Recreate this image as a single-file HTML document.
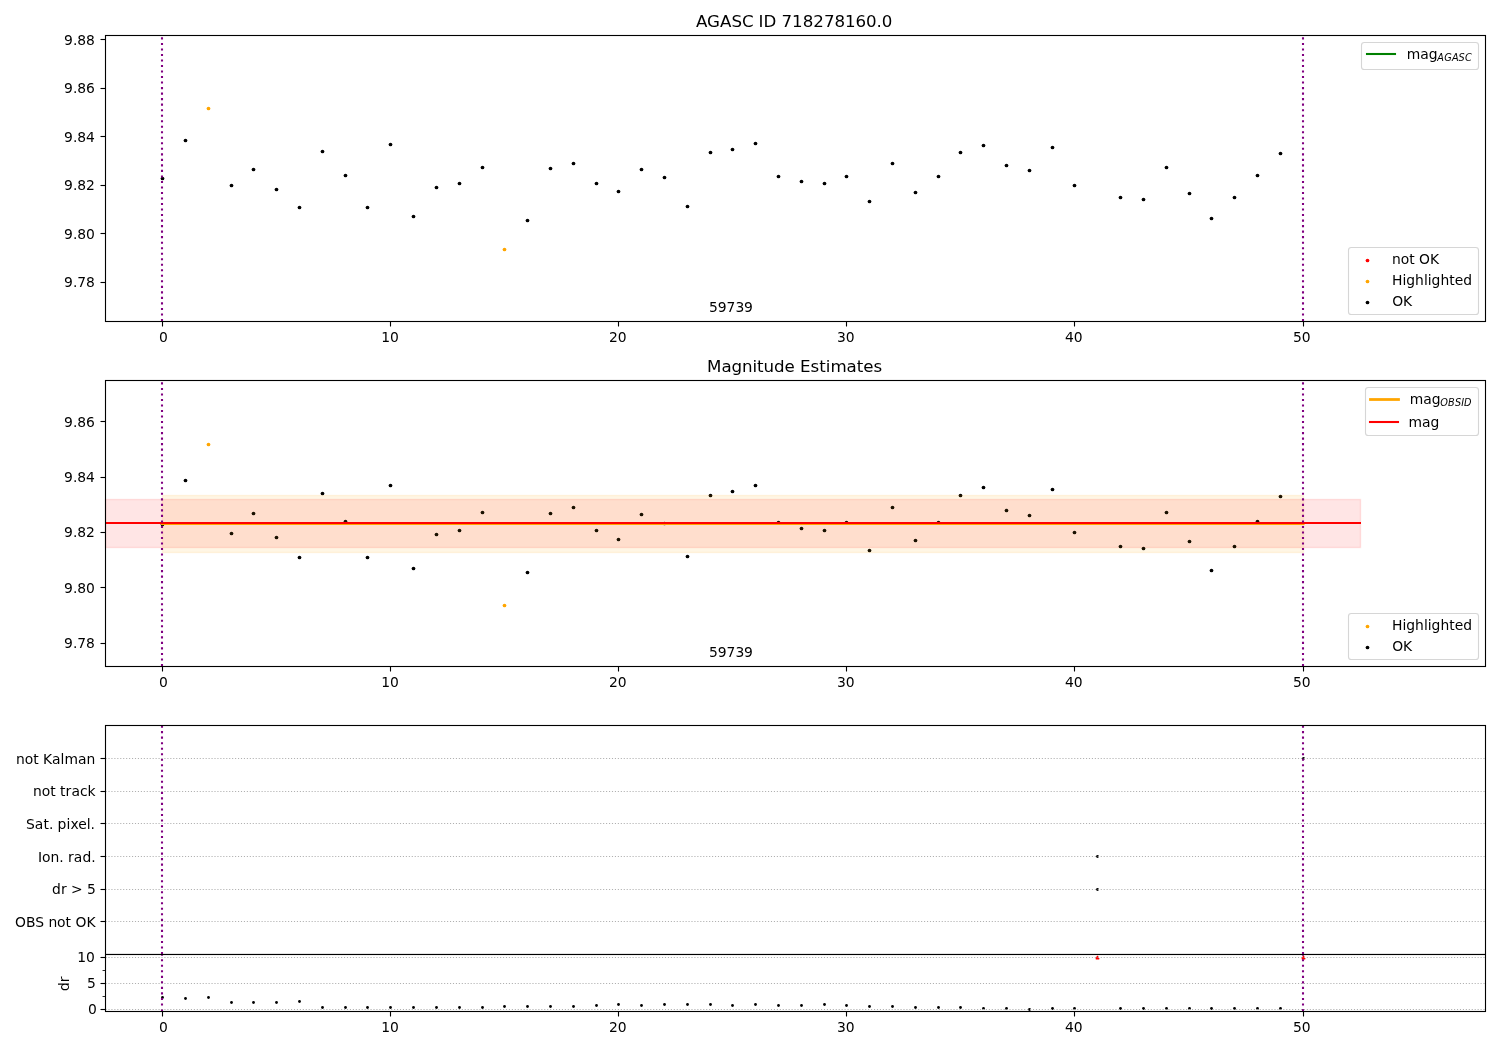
<!DOCTYPE html>
<html lang="en"><head><meta charset="utf-8"><title>AGASC ID 718278160.0</title>
<style>html,body{margin:0;padding:0;background:#fff;}svg{display:block;will-change:transform;}</style></head>
<body>
<svg width="1500" height="1050" viewBox="0 0 1500 1050" font-family="'DejaVu Sans', 'Liberation Sans', sans-serif" font-size="13.889" fill="#000">
<rect width="1500" height="1050" fill="#fff"/>
<circle cx="162.5" cy="178.5" r="1.85" fill="#000"/>
<circle cx="185.5" cy="140.5" r="1.85" fill="#000"/>
<circle cx="208.5" cy="108.5" r="1.85" fill="orange"/>
<circle cx="231.5" cy="185.5" r="1.85" fill="#000"/>
<circle cx="253.5" cy="169.5" r="1.85" fill="#000"/>
<circle cx="276.5" cy="189.5" r="1.85" fill="#000"/>
<circle cx="299.5" cy="207.5" r="1.85" fill="#000"/>
<circle cx="322.5" cy="151.5" r="1.85" fill="#000"/>
<circle cx="345.5" cy="175.5" r="1.85" fill="#000"/>
<circle cx="367.5" cy="207.5" r="1.85" fill="#000"/>
<circle cx="390.5" cy="144.5" r="1.85" fill="#000"/>
<circle cx="413.5" cy="216.5" r="1.85" fill="#000"/>
<circle cx="436.5" cy="187.5" r="1.85" fill="#000"/>
<circle cx="459.5" cy="183.5" r="1.85" fill="#000"/>
<circle cx="482.5" cy="167.5" r="1.85" fill="#000"/>
<circle cx="504.5" cy="249.5" r="1.85" fill="orange"/>
<circle cx="527.5" cy="220.5" r="1.85" fill="#000"/>
<circle cx="550.5" cy="168.5" r="1.85" fill="#000"/>
<circle cx="573.5" cy="163.5" r="1.85" fill="#000"/>
<circle cx="596.5" cy="183.5" r="1.85" fill="#000"/>
<circle cx="618.5" cy="191.5" r="1.85" fill="#000"/>
<circle cx="641.5" cy="169.5" r="1.85" fill="#000"/>
<circle cx="664.5" cy="177.5" r="1.85" fill="#000"/>
<circle cx="687.5" cy="206.5" r="1.85" fill="#000"/>
<circle cx="710.5" cy="152.5" r="1.85" fill="#000"/>
<circle cx="732.5" cy="149.5" r="1.85" fill="#000"/>
<circle cx="755.5" cy="143.5" r="1.85" fill="#000"/>
<circle cx="778.5" cy="176.5" r="1.85" fill="#000"/>
<circle cx="801.5" cy="181.5" r="1.85" fill="#000"/>
<circle cx="824.5" cy="183.5" r="1.85" fill="#000"/>
<circle cx="846.5" cy="176.5" r="1.85" fill="#000"/>
<circle cx="869.5" cy="201.5" r="1.85" fill="#000"/>
<circle cx="892.5" cy="163.5" r="1.85" fill="#000"/>
<circle cx="915.5" cy="192.5" r="1.85" fill="#000"/>
<circle cx="938.5" cy="176.5" r="1.85" fill="#000"/>
<circle cx="960.5" cy="152.5" r="1.85" fill="#000"/>
<circle cx="983.5" cy="145.5" r="1.85" fill="#000"/>
<circle cx="1006.5" cy="165.5" r="1.85" fill="#000"/>
<circle cx="1029.5" cy="170.5" r="1.85" fill="#000"/>
<circle cx="1052.5" cy="147.5" r="1.85" fill="#000"/>
<circle cx="1074.5" cy="185.5" r="1.85" fill="#000"/>
<circle cx="1120.5" cy="197.5" r="1.85" fill="#000"/>
<circle cx="1143.5" cy="199.5" r="1.85" fill="#000"/>
<circle cx="1166.5" cy="167.5" r="1.85" fill="#000"/>
<circle cx="1189.5" cy="193.5" r="1.85" fill="#000"/>
<circle cx="1211.5" cy="218.5" r="1.85" fill="#000"/>
<circle cx="1234.5" cy="197.5" r="1.85" fill="#000"/>
<circle cx="1257.5" cy="175.5" r="1.85" fill="#000"/>
<circle cx="1280.5" cy="153.5" r="1.85" fill="#000"/>
<line x1="162.0" y1="321.00" x2="162.0" y2="35.30" stroke="#800080" stroke-width="2.083" stroke-dasharray="2.083 3.4375"/>
<line x1="1303.0" y1="321.00" x2="1303.0" y2="35.30" stroke="#800080" stroke-width="2.083" stroke-dasharray="2.083 3.4375"/>
<rect x="105.5" y="35.5" width="1380.0" height="286.0" fill="none" stroke="#000" stroke-width="1.11"/>
<line x1="162.5" y1="321.5" x2="162.5" y2="326.50" stroke="#000" stroke-width="1.11"/>
<line x1="390.5" y1="321.5" x2="390.5" y2="326.50" stroke="#000" stroke-width="1.11"/>
<line x1="618.5" y1="321.5" x2="618.5" y2="326.50" stroke="#000" stroke-width="1.11"/>
<line x1="846.5" y1="321.5" x2="846.5" y2="326.50" stroke="#000" stroke-width="1.11"/>
<line x1="1074.5" y1="321.5" x2="1074.5" y2="326.50" stroke="#000" stroke-width="1.11"/>
<line x1="1303.5" y1="321.5" x2="1303.5" y2="326.50" stroke="#000" stroke-width="1.11"/>
<line x1="100.50" y1="39.5" x2="105.5" y2="39.5" stroke="#000" stroke-width="1.11"/>
<line x1="100.50" y1="88.5" x2="105.5" y2="88.5" stroke="#000" stroke-width="1.11"/>
<line x1="100.50" y1="136.5" x2="105.5" y2="136.5" stroke="#000" stroke-width="1.11"/>
<line x1="100.50" y1="185.5" x2="105.5" y2="185.5" stroke="#000" stroke-width="1.11"/>
<line x1="100.50" y1="233.5" x2="105.5" y2="233.5" stroke="#000" stroke-width="1.11"/>
<line x1="100.50" y1="282.5" x2="105.5" y2="282.5" stroke="#000" stroke-width="1.11"/>
<rect x="1361.5" y="42.5" width="117.0" height="27.0" rx="2.8" ry="2.8" fill="#fff" fill-opacity="0.8" stroke="#ccc" stroke-opacity="0.8" stroke-width="1.11"/>
<line x1="1365.96" y1="54.0" x2="1396.04" y2="54.0" stroke="#008000" stroke-width="2.083"/>
<rect x="1348.5" y="247.5" width="130.0" height="67.0" rx="2.8" ry="2.8" fill="#fff" fill-opacity="0.8" stroke="#ccc" stroke-opacity="0.8" stroke-width="1.11"/>
<circle cx="1367.5" cy="260.5" r="1.85" fill="#f00"/>
<circle cx="1367.5" cy="281.5" r="1.85" fill="orange"/>
<circle cx="1367.5" cy="302.5" r="1.85" fill="#000"/>
<rect x="105.5" y="499.5" width="1255.0" height="48.0" fill="#f00" fill-opacity="0.1" stroke="#f00" stroke-opacity="0.1" stroke-width="1.39"/>
<circle cx="162.5" cy="524.5" r="1.85" fill="#000"/>
<circle cx="185.5" cy="480.5" r="1.85" fill="#000"/>
<circle cx="208.5" cy="444.5" r="1.85" fill="orange"/>
<circle cx="231.5" cy="533.5" r="1.85" fill="#000"/>
<circle cx="253.5" cy="513.5" r="1.85" fill="#000"/>
<circle cx="276.5" cy="537.5" r="1.85" fill="#000"/>
<circle cx="299.5" cy="557.5" r="1.85" fill="#000"/>
<circle cx="322.5" cy="493.5" r="1.85" fill="#000"/>
<circle cx="345.5" cy="521.5" r="1.85" fill="#000"/>
<circle cx="367.5" cy="557.5" r="1.85" fill="#000"/>
<circle cx="390.5" cy="485.5" r="1.85" fill="#000"/>
<circle cx="413.5" cy="568.5" r="1.85" fill="#000"/>
<circle cx="436.5" cy="534.5" r="1.85" fill="#000"/>
<circle cx="459.5" cy="530.5" r="1.85" fill="#000"/>
<circle cx="482.5" cy="512.5" r="1.85" fill="#000"/>
<circle cx="504.5" cy="605.5" r="1.85" fill="orange"/>
<circle cx="527.5" cy="572.5" r="1.85" fill="#000"/>
<circle cx="550.5" cy="513.5" r="1.85" fill="#000"/>
<circle cx="573.5" cy="507.5" r="1.85" fill="#000"/>
<circle cx="596.5" cy="530.5" r="1.85" fill="#000"/>
<circle cx="618.5" cy="539.5" r="1.85" fill="#000"/>
<circle cx="641.5" cy="514.5" r="1.85" fill="#000"/>
<circle cx="664.5" cy="523.5" r="1.85" fill="#000"/>
<circle cx="687.5" cy="556.5" r="1.85" fill="#000"/>
<circle cx="710.5" cy="495.5" r="1.85" fill="#000"/>
<circle cx="732.5" cy="491.5" r="1.85" fill="#000"/>
<circle cx="755.5" cy="485.5" r="1.85" fill="#000"/>
<circle cx="778.5" cy="522.5" r="1.85" fill="#000"/>
<circle cx="801.5" cy="528.5" r="1.85" fill="#000"/>
<circle cx="824.5" cy="530.5" r="1.85" fill="#000"/>
<circle cx="846.5" cy="522.5" r="1.85" fill="#000"/>
<circle cx="869.5" cy="550.5" r="1.85" fill="#000"/>
<circle cx="892.5" cy="507.5" r="1.85" fill="#000"/>
<circle cx="915.5" cy="540.5" r="1.85" fill="#000"/>
<circle cx="938.5" cy="522.5" r="1.85" fill="#000"/>
<circle cx="960.5" cy="495.5" r="1.85" fill="#000"/>
<circle cx="983.5" cy="487.5" r="1.85" fill="#000"/>
<circle cx="1006.5" cy="510.5" r="1.85" fill="#000"/>
<circle cx="1029.5" cy="515.5" r="1.85" fill="#000"/>
<circle cx="1052.5" cy="489.5" r="1.85" fill="#000"/>
<circle cx="1074.5" cy="532.5" r="1.85" fill="#000"/>
<circle cx="1120.5" cy="546.5" r="1.85" fill="#000"/>
<circle cx="1143.5" cy="548.5" r="1.85" fill="#000"/>
<circle cx="1166.5" cy="512.5" r="1.85" fill="#000"/>
<circle cx="1189.5" cy="541.5" r="1.85" fill="#000"/>
<circle cx="1211.5" cy="570.5" r="1.85" fill="#000"/>
<circle cx="1234.5" cy="546.5" r="1.85" fill="#000"/>
<circle cx="1257.5" cy="521.5" r="1.85" fill="#000"/>
<circle cx="1280.5" cy="496.5" r="1.85" fill="#000"/>
<rect x="162.5" y="495.5" width="1141.0" height="57.0" fill="orange" fill-opacity="0.1" stroke="orange" stroke-opacity="0.1" stroke-width="1.39"/>
<line x1="160.9" y1="523.5" x2="1304.55" y2="523.5" stroke="orange" stroke-width="2.78"/>
<line x1="105.5" y1="523.0" x2="1361.0" y2="523.0" stroke="#f00" stroke-width="2.083"/>
<line x1="162.0" y1="666.00" x2="162.0" y2="380.30" stroke="#800080" stroke-width="2.083" stroke-dasharray="2.083 3.4375"/>
<line x1="1303.0" y1="666.00" x2="1303.0" y2="380.30" stroke="#800080" stroke-width="2.083" stroke-dasharray="2.083 3.4375"/>
<rect x="105.5" y="380.5" width="1380.0" height="286.0" fill="none" stroke="#000" stroke-width="1.11"/>
<line x1="162.5" y1="666.5" x2="162.5" y2="671.50" stroke="#000" stroke-width="1.11"/>
<line x1="390.5" y1="666.5" x2="390.5" y2="671.50" stroke="#000" stroke-width="1.11"/>
<line x1="618.5" y1="666.5" x2="618.5" y2="671.50" stroke="#000" stroke-width="1.11"/>
<line x1="846.5" y1="666.5" x2="846.5" y2="671.50" stroke="#000" stroke-width="1.11"/>
<line x1="1074.5" y1="666.5" x2="1074.5" y2="671.50" stroke="#000" stroke-width="1.11"/>
<line x1="1303.5" y1="666.5" x2="1303.5" y2="671.50" stroke="#000" stroke-width="1.11"/>
<line x1="100.50" y1="421.5" x2="105.5" y2="421.5" stroke="#000" stroke-width="1.11"/>
<line x1="100.50" y1="477.5" x2="105.5" y2="477.5" stroke="#000" stroke-width="1.11"/>
<line x1="100.50" y1="532.5" x2="105.5" y2="532.5" stroke="#000" stroke-width="1.11"/>
<line x1="100.50" y1="587.5" x2="105.5" y2="587.5" stroke="#000" stroke-width="1.11"/>
<line x1="100.50" y1="643.5" x2="105.5" y2="643.5" stroke="#000" stroke-width="1.11"/>
<rect x="1365.5" y="387.5" width="113.0" height="48.0" rx="2.8" ry="2.8" fill="#fff" fill-opacity="0.8" stroke="#ccc" stroke-opacity="0.8" stroke-width="1.11"/>
<line x1="1369.11" y1="399.5" x2="1399.89" y2="399.5" stroke="orange" stroke-width="2.78"/>
<line x1="1368.96" y1="422.0" x2="1399.04" y2="422.0" stroke="#f00" stroke-width="2.083"/>
<rect x="1348.5" y="613.5" width="130.0" height="46.0" rx="2.8" ry="2.8" fill="#fff" fill-opacity="0.8" stroke="#ccc" stroke-opacity="0.8" stroke-width="1.11"/>
<circle cx="1367.5" cy="626.5" r="1.85" fill="orange"/>
<circle cx="1367.5" cy="647.5" r="1.85" fill="#000"/>
<circle cx="162.5" cy="997.5" r="1.40" fill="#000"/>
<circle cx="185.5" cy="998.5" r="1.40" fill="#000"/>
<circle cx="208.5" cy="997.5" r="1.40" fill="#000"/>
<circle cx="231.5" cy="1002.5" r="1.40" fill="#000"/>
<circle cx="253.5" cy="1002.5" r="1.40" fill="#000"/>
<circle cx="276.5" cy="1002.5" r="1.40" fill="#000"/>
<circle cx="299.5" cy="1001.5" r="1.40" fill="#000"/>
<circle cx="322.5" cy="1007.5" r="1.40" fill="#000"/>
<circle cx="345.5" cy="1007.5" r="1.40" fill="#000"/>
<circle cx="367.5" cy="1007.5" r="1.40" fill="#000"/>
<circle cx="390.5" cy="1007.5" r="1.40" fill="#000"/>
<circle cx="413.5" cy="1007.5" r="1.40" fill="#000"/>
<circle cx="436.5" cy="1007.5" r="1.40" fill="#000"/>
<circle cx="459.5" cy="1007.5" r="1.40" fill="#000"/>
<circle cx="482.5" cy="1007.5" r="1.40" fill="#000"/>
<circle cx="504.5" cy="1006.5" r="1.40" fill="#000"/>
<circle cx="527.5" cy="1006.5" r="1.40" fill="#000"/>
<circle cx="550.5" cy="1006.5" r="1.40" fill="#000"/>
<circle cx="573.5" cy="1006.5" r="1.40" fill="#000"/>
<circle cx="596.5" cy="1005.5" r="1.40" fill="#000"/>
<circle cx="618.5" cy="1004.5" r="1.40" fill="#000"/>
<circle cx="641.5" cy="1005.5" r="1.40" fill="#000"/>
<circle cx="664.5" cy="1004.5" r="1.40" fill="#000"/>
<circle cx="687.5" cy="1004.5" r="1.40" fill="#000"/>
<circle cx="710.5" cy="1004.5" r="1.40" fill="#000"/>
<circle cx="732.5" cy="1005.5" r="1.40" fill="#000"/>
<circle cx="755.5" cy="1004.5" r="1.40" fill="#000"/>
<circle cx="778.5" cy="1005.5" r="1.40" fill="#000"/>
<circle cx="801.5" cy="1005.5" r="1.40" fill="#000"/>
<circle cx="824.5" cy="1004.5" r="1.40" fill="#000"/>
<circle cx="846.5" cy="1005.5" r="1.40" fill="#000"/>
<circle cx="869.5" cy="1006.5" r="1.40" fill="#000"/>
<circle cx="892.5" cy="1006.5" r="1.40" fill="#000"/>
<circle cx="915.5" cy="1007.5" r="1.40" fill="#000"/>
<circle cx="938.5" cy="1007.5" r="1.40" fill="#000"/>
<circle cx="960.5" cy="1007.5" r="1.40" fill="#000"/>
<circle cx="983.5" cy="1008.5" r="1.40" fill="#000"/>
<circle cx="1006.5" cy="1008.5" r="1.40" fill="#000"/>
<circle cx="1029.5" cy="1009.5" r="1.40" fill="#000"/>
<circle cx="1052.5" cy="1008.5" r="1.40" fill="#000"/>
<circle cx="1074.5" cy="1008.5" r="1.40" fill="#000"/>
<circle cx="1120.5" cy="1008.5" r="1.40" fill="#000"/>
<circle cx="1143.5" cy="1008.5" r="1.40" fill="#000"/>
<circle cx="1166.5" cy="1008.5" r="1.40" fill="#000"/>
<circle cx="1189.5" cy="1008.5" r="1.40" fill="#000"/>
<circle cx="1211.5" cy="1008.5" r="1.40" fill="#000"/>
<circle cx="1234.5" cy="1008.5" r="1.40" fill="#000"/>
<circle cx="1257.5" cy="1008.5" r="1.40" fill="#000"/>
<circle cx="1280.5" cy="1008.5" r="1.40" fill="#000"/>
<circle cx="1097.5" cy="856.5" r="1.40" fill="#000"/>
<circle cx="1097.5" cy="889.5" r="1.40" fill="#000"/>
<circle cx="1303.5" cy="758.5" r="1.40" fill="#000"/>
<path d="M1096.97 955.75 L1098.03 955.75 L1099.50 958.70 L1099.50 958.95 L1098.95 959.62 L1096.05 959.62 L1095.50 958.95 L1095.50 958.70 Z" fill="#f00"/>
<path d="M1302.97 955.75 L1304.03 955.75 L1305.50 958.70 L1305.50 958.95 L1304.95 959.62 L1302.05 959.62 L1301.50 958.95 L1301.50 958.70 Z" fill="#f00"/>
<line x1="162.0" y1="954.00" x2="162.0" y2="725.30" stroke="#800080" stroke-width="2.083" stroke-dasharray="2.083 3.4375"/>
<line x1="1303.0" y1="954.00" x2="1303.0" y2="725.30" stroke="#800080" stroke-width="2.083" stroke-dasharray="2.083 3.4375"/>
<line x1="162.0" y1="1011.00" x2="162.0" y2="954.00" stroke="#800080" stroke-width="2.083" stroke-dasharray="2.083 3.4375"/>
<line x1="1303.0" y1="1011.00" x2="1303.0" y2="954.00" stroke="#800080" stroke-width="2.083" stroke-dasharray="2.083 3.4375"/>
<line x1="105.5" y1="758.5" x2="1485.5" y2="758.5" stroke="#b0b0b0" stroke-width="1.11" stroke-dasharray="1.1111 1.8333"/>
<line x1="105.5" y1="791.5" x2="1485.5" y2="791.5" stroke="#b0b0b0" stroke-width="1.11" stroke-dasharray="1.1111 1.8333"/>
<line x1="105.5" y1="823.5" x2="1485.5" y2="823.5" stroke="#b0b0b0" stroke-width="1.11" stroke-dasharray="1.1111 1.8333"/>
<line x1="105.5" y1="856.5" x2="1485.5" y2="856.5" stroke="#b0b0b0" stroke-width="1.11" stroke-dasharray="1.1111 1.8333"/>
<line x1="105.5" y1="889.5" x2="1485.5" y2="889.5" stroke="#b0b0b0" stroke-width="1.11" stroke-dasharray="1.1111 1.8333"/>
<line x1="105.5" y1="921.5" x2="1485.5" y2="921.5" stroke="#b0b0b0" stroke-width="1.11" stroke-dasharray="1.1111 1.8333"/>
<line x1="105.5" y1="957.5" x2="1485.5" y2="957.5" stroke="#b0b0b0" stroke-width="1.11" stroke-dasharray="1.1111 1.8333"/>
<line x1="105.5" y1="983.5" x2="1485.5" y2="983.5" stroke="#b0b0b0" stroke-width="1.11" stroke-dasharray="1.1111 1.8333"/>
<line x1="105.5" y1="1009.5" x2="1485.5" y2="1009.5" stroke="#b0b0b0" stroke-width="1.11" stroke-dasharray="1.1111 1.8333"/>
<rect x="105.5" y="953.89" width="1380.0" height="1.165" fill="#000"/>
<rect x="105.5" y="725.5" width="1380.0" height="286.0" fill="none" stroke="#000" stroke-width="1.11"/>
<line x1="162.5" y1="1011.5" x2="162.5" y2="1016.50" stroke="#000" stroke-width="1.11"/>
<line x1="390.5" y1="1011.5" x2="390.5" y2="1016.50" stroke="#000" stroke-width="1.11"/>
<line x1="618.5" y1="1011.5" x2="618.5" y2="1016.50" stroke="#000" stroke-width="1.11"/>
<line x1="846.5" y1="1011.5" x2="846.5" y2="1016.50" stroke="#000" stroke-width="1.11"/>
<line x1="1074.5" y1="1011.5" x2="1074.5" y2="1016.50" stroke="#000" stroke-width="1.11"/>
<line x1="1303.5" y1="1011.5" x2="1303.5" y2="1016.50" stroke="#000" stroke-width="1.11"/>
<line x1="100.50" y1="758.5" x2="105.5" y2="758.5" stroke="#000" stroke-width="1.11"/>
<line x1="100.50" y1="791.5" x2="105.5" y2="791.5" stroke="#000" stroke-width="1.11"/>
<line x1="100.50" y1="823.5" x2="105.5" y2="823.5" stroke="#000" stroke-width="1.11"/>
<line x1="100.50" y1="856.5" x2="105.5" y2="856.5" stroke="#000" stroke-width="1.11"/>
<line x1="100.50" y1="889.5" x2="105.5" y2="889.5" stroke="#000" stroke-width="1.11"/>
<line x1="100.50" y1="921.5" x2="105.5" y2="921.5" stroke="#000" stroke-width="1.11"/>
<line x1="100.50" y1="957.5" x2="105.5" y2="957.5" stroke="#000" stroke-width="1.11"/>
<line x1="100.50" y1="983.5" x2="105.5" y2="983.5" stroke="#000" stroke-width="1.11"/>
<line x1="100.50" y1="1009.5" x2="105.5" y2="1009.5" stroke="#000" stroke-width="1.11"/>
<line x1="102.55" y1="970.5" x2="105.5" y2="970.5" stroke="#000" stroke-width="0.83"/>
<line x1="102.55" y1="996.5" x2="105.5" y2="996.5" stroke="#000" stroke-width="0.83"/>
<text x="159.00" y="342.00">0</text>
<text x="381.25 390.12" y="342.00">10</text>
<text x="609.00 617.75" y="342.00">20</text>
<text x="837.00 845.75" y="342.00">30</text>
<text x="1065.00 1073.75" y="342.00">40</text>
<text x="1293.00 1301.75" y="342.00">50</text>
<text x="64.00 72.88 77.25 86.12" y="45.00">9.88</text>
<text x="64.00 72.88 77.25 86.12" y="93.00">9.86</text>
<text x="64.00 72.88 77.25 86.12" y="142.00">9.84</text>
<text x="64.00 72.88 77.25 86.12" y="190.00">9.82</text>
<text x="64.00 72.88 77.25 86.12" y="239.00">9.80</text>
<text x="64.00 72.88 77.25 86.00" y="287.00">9.78</text>
<text x="696.00 707.12 720.00 731.38 741.88 753.38 758.62 763.50 776.38 781.62 792.12 802.75 813.25 823.88 834.38 844.88 855.50 866.00 876.50 881.75" y="27.00" font-size="16.667">AGASC ID 718278160.0</text>
<text x="709.00 717.75 726.62 735.38 744.12" y="312.00">59739</text>
<text x="1406.75 1420.27 1428.77" y="59.00">mag<tspan font-style="italic" font-size="9.722" x="1437.31 1444.15 1451.88 1458.52 1464.99" dy="2.3">AGASC</tspan></text>
<text x="1392.00 1400.75 1409.25 1414.75 1419.12 1430.00" y="264.00">not OK</text>
<text x="1392.00 1402.38 1406.25 1415.12 1423.88 1427.75 1431.62 1440.50 1449.25 1454.75 1463.25" y="285.00">Highlighted</text>
<text x="1392.25 1403.12" y="306.00">OK</text>
<text x="159.00" y="687.00">0</text>
<text x="381.25 390.12" y="687.00">10</text>
<text x="609.00 617.75" y="687.00">20</text>
<text x="837.00 845.75" y="687.00">30</text>
<text x="1065.00 1073.75" y="687.00">40</text>
<text x="1293.00 1301.75" y="687.00">50</text>
<text x="64.00 72.88 77.25 86.12" y="427.00">9.86</text>
<text x="64.00 72.88 77.25 86.12" y="482.00">9.84</text>
<text x="64.00 72.88 77.25 86.12" y="537.00">9.82</text>
<text x="64.00 72.88 77.25 86.12" y="593.00">9.80</text>
<text x="64.00 72.88 77.25 86.00" y="648.00">9.78</text>
<text x="707.00 721.38 731.50 742.00 752.50 757.12 763.62 774.12 784.62 794.88 800.12 810.50 819.25 825.75 830.38 846.62 856.75 863.25 873.50" y="372.00" font-size="16.667">Magnitude Estimates</text>
<text x="709.00 717.75 726.62 735.38 744.12" y="657.00">59739</text>
<text x="1409.75 1423.27 1431.77" y="404.00">mag<tspan font-style="italic" font-size="9.722" x="1440.21 1448.05 1454.92 1461.18 1464.05" dy="2.3">OBSID</tspan></text>
<text x="1408.50 1422.00 1430.62" y="427.00">mag</text>
<text x="1392.00 1402.38 1406.25 1415.12 1423.88 1427.75 1431.62 1440.50 1449.25 1454.75 1463.25" y="630.00">Highlighted</text>
<text x="1392.25 1403.12" y="651.00">OK</text>
<text x="159.00" y="1032.00">0</text>
<text x="381.25 390.12" y="1032.00">10</text>
<text x="609.00 617.75" y="1032.00">20</text>
<text x="837.00 845.75" y="1032.00">30</text>
<text x="1065.00 1073.75" y="1032.00">40</text>
<text x="1293.00 1301.75" y="1032.00">50</text>
<text x="16.00 24.75 33.25 38.75 43.12 51.88 60.50 64.38 77.88 86.50" y="764.00">not Kalman</text>
<text x="33.00 41.75 50.25 55.75 60.12 65.62 71.38 80.00 87.62" y="796.00">not track</text>
<text x="26.00 34.75 43.38 48.88 53.25 57.62 66.50 70.38 78.25 86.75 90.62" y="829.00">Sat. pixel.</text>
<text x="38.00 42.00 50.50 59.25 63.62 68.00 73.75 82.38 91.25" y="862.00">Ion. rad.</text>
<text x="52.00 60.88 66.62 71.00 82.62 87.00" y="894.00">dr &gt; 5</text>
<text x="15.00 25.88 35.25 44.00 48.38 57.12 65.62 71.12 75.50 86.38" y="927.00">OBS not OK</text>
<text x="77.25 86.12" y="962.00">10</text>
<text x="87.00" y="988.00">5</text>
<text x="88.00" y="1014.00">0</text>
<text transform="translate(69.00,991.00) rotate(-90)" x="0.00 8.88">dr</text>
</svg>
</body></html>
